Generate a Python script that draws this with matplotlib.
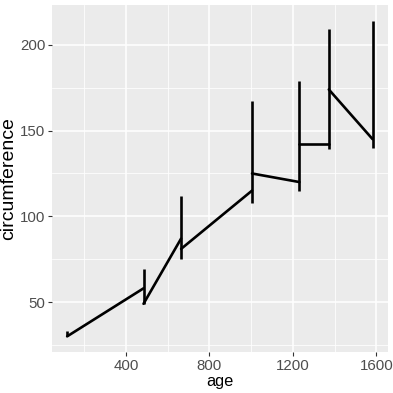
import matplotlib
matplotlib.use("Agg")
import matplotlib.pyplot as plt
import numpy as np

plt.rcParams["font.family"] = ["Liberation Sans", "DejaVu Sans"]

# Orange trees: age (days) and circumference (mm), rows in dataset order
ages = [118, 484, 664, 1004, 1231, 1372, 1582]
tree1 = [30, 58, 87, 115, 120, 142, 145]
tree2 = [33, 69, 111, 156, 172, 203, 203]
tree3 = [30, 51, 75, 108, 115, 139, 140]
tree4 = [32, 62, 112, 167, 179, 209, 214]
tree5 = [30, 49, 81, 125, 142, 174, 177]

x_ticks = [400, 800, 1200, 1600]
y_ticks = [50, 100, 150, 200]

# geom_line style: one path through all points, ordered by age.
# Within an age the path runs tree1 -> tree5, so it covers min..max there;
# draw that as a single vertical and link last value -> next age's first.
trees = np.array([tree1, tree2, tree3, tree4, tree5])
age_arr = np.array(ages)
lo, hi = trees.min(axis=0), trees.max(axis=0)
first, last = trees[0], trees[-1]

fig = plt.figure(figsize=(3.93, 3.93), dpi=100)
ax = fig.add_axes([0.132, 0.104, 0.855, 0.883])
ax.set_facecolor("#EBEBEB")

lw = 1.9
ax.vlines(age_arr, lo, hi, color="black", linewidth=lw, zorder=3)
for i in range(len(ages) - 1):
    ax.plot(age_arr[i:i + 2], [last[i], first[i + 1]], color="black",
            linewidth=lw, solid_capstyle="round", zorder=3)

xr = age_arr.max() - age_arr.min()
yr = hi.max() - lo.min()
ax.set_xlim(age_arr.min() - 0.05 * xr, age_arr.max() + 0.05 * xr)
ax.set_ylim(lo.min() - 0.05 * yr, hi.max() + 0.05 * yr)

ax.set_xticks(x_ticks)
ax.set_yticks(y_ticks)
ax.set_xticks([200, 600, 1000, 1400], minor=True)
ax.set_yticks([25, 75, 125, 175], minor=True)
ax.grid(which="major", color="white", linewidth=1.1)
ax.grid(which="minor", color="white", linewidth=0.55)
ax.set_axisbelow(True)

for s in ax.spines.values():
    s.set_visible(False)
ax.tick_params(which="major", length=2.7, width=0.8, color="#333333",
               labelcolor="#4D4D4D", labelsize=10.8, pad=2)
ax.tick_params(which="minor", length=0)

ax.set_xlabel("age", fontsize=11.8, labelpad=1)
ax.set_ylabel("circumference", fontsize=14, labelpad=2)

fig.savefig("out.png", dpi=100)
